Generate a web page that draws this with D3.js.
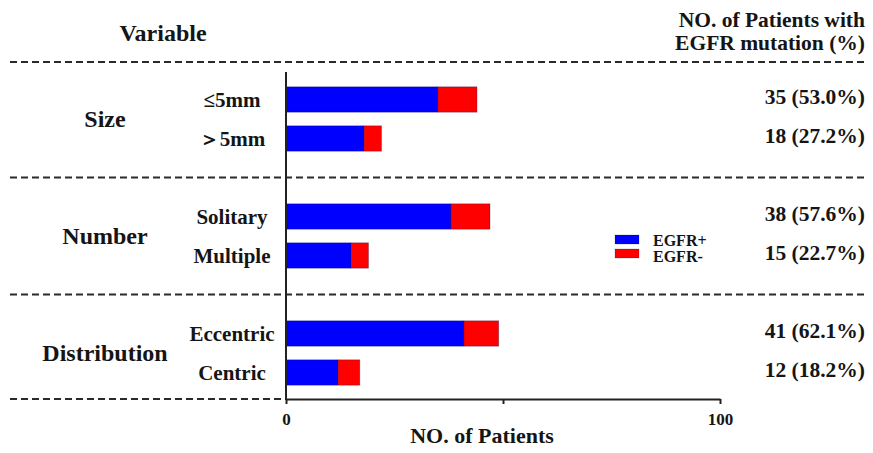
<!DOCTYPE html>
<html>
<head>
<meta charset="utf-8">
<script src="https://cdn.jsdelivr.net/npm/d3@7"></script>
<style>
  html, body { margin: 0; padding: 0; background: #fff; }
  svg { display: block; }
  text { font-family: "Liberation Serif", "Times New Roman", serif; font-weight: bold; fill: #151515; }
</style>
</head>
<body>
<svg id="chart" width="873" height="453"></svg>
<script>
// Variables, their sub-categories and patient counts
const groups = ["Size", "Number", "Distribution"];
const categories = ["≤5mm", "＞5mm", "Solitary", "Multiple", "Eccentric", "Centric"];
const categoryGroup = ["Size", "Size", "Number", "Number", "Distribution", "Distribution"];
const egfrPositive = [35, 18, 38, 15, 41, 12];
const egfrNegative = [9, 4, 9, 4, 8, 5];
const positivePct = [53.0, 27.2, 57.6, 22.7, 62.1, 18.2];
const seriesNames = ["EGFR+", "EGFR-"];
const xTicks = [0, 50, 100];
const xTickLabels = ["0", "", "100"];

const colors = { "EGFR+": "#0000ff", "EGFR-": "#ff0000" };

const svg = d3.select("#chart");

// Row layout: each group gets two rows, with an empty row between groups
const rowKeys = [];
groups.forEach((g, gi) => {
  categories.forEach((c, i) => { if (categoryGroup[i] === g) rowKeys.push(c); });
  if (gi < groups.length - 1) rowKeys.push("__sep" + gi);
});

const x = d3.scaleLinear().domain([0, 100]).range([286, 720]);
const y = d3.scaleBand().domain(rowKeys).range([80, 392]).paddingInner(0.35).paddingOuter(0.175);
const rowCenter = k => y(k) + y.bandwidth() / 2;

// Stacked data
const rows = categories.map((c, i) => ({ cat: c, "EGFR+": egfrPositive[i], "EGFR-": egfrNegative[i] }));
const stacked = d3.stack().keys(seriesNames)(rows);

// Dashed separators
const dash = "7,4";
const sepStyle = sel => sel.attr("stroke", "#2a2a2a").attr("stroke-width", 2).attr("stroke-dasharray", dash);
svg.append("line").attr("x1", 10).attr("x2", 866).attr("y1", 62).attr("y2", 62).call(sepStyle);
rowKeys.filter(k => k.startsWith("__sep")).forEach(k => {
  svg.append("line").attr("x1", 10).attr("x2", 866)
    .attr("y1", rowCenter(k)).attr("y2", rowCenter(k)).call(sepStyle);
});
svg.append("line").attr("x1", 10).attr("x2", x(0)).attr("y1", 399).attr("y2", 399).call(sepStyle);

// Bars
svg.append("g").selectAll("g").data(stacked).join("g")
  .attr("fill", d => colors[d.key])
  .selectAll("rect").data(d => d).join("rect")
  .attr("x", d => x(d[0]))
  .attr("width", d => x(d[1]) - x(d[0]))
  .attr("y", d => y(d.data.cat))
  .attr("height", y.bandwidth())
  .attr("stroke", "rgba(0,0,60,0.35)")
  .attr("stroke-width", 0.8);

// X axis
const xAxis = d3.axisBottom(x)
  .tickValues(xTicks)
  .tickFormat((d, i) => xTickLabels[i])
  .tickSize(5)
  .tickSizeOuter(0)
  .tickPadding(9);
const gx = svg.append("g").attr("transform", "translate(0,399)").call(xAxis);
gx.select(".domain").attr("stroke", "#222").attr("stroke-width", 2);
gx.selectAll(".tick line").attr("stroke", "#222").attr("stroke-width", 2);
gx.selectAll(".tick text").attr("font-size", 17).attr("fill", "#151515")
  .style("font-family", '"Liberation Serif", "Times New Roman", serif').style("font-weight", "bold");

// Y axis line
svg.append("line").attr("x1", x(0)).attr("x2", x(0)).attr("y1", 72).attr("y2", 400)
  .attr("stroke", "#222").attr("stroke-width", 2);

// Axis title
svg.append("text").attr("x", 482).attr("y", 443).attr("text-anchor", "middle")
  .attr("font-size", 22).text("NO. of Patients");

// Column headers
svg.append("text").attr("x", 163).attr("y", 41).attr("text-anchor", "middle")
  .attr("font-size", 24).text("Variable");
svg.append("text").attr("x", 865).attr("y", 27).attr("text-anchor", "end")
  .attr("font-size", 21.5).text("NO. of Patients with");
svg.append("text").attr("x", 865).attr("y", 50).attr("text-anchor", "end")
  .attr("font-size", 21.5).text("EGFR mutation (%)");

// Group labels
groups.forEach(g => {
  const cats = categories.filter((c, i) => categoryGroup[i] === g);
  const cy = d3.mean(cats, rowCenter);
  svg.append("text").attr("x", 105).attr("y", cy + 8).attr("text-anchor", "middle")
    .attr("font-size", 24).text(g);
});

// Sub-category labels
svg.append("g").selectAll("text").data(categories).join("text")
  .attr("x", 232).attr("y", d => rowCenter(d) + 7).attr("text-anchor", "middle")
  .attr("font-size", 21).text(d => d);

// Counts with percentages
svg.append("g").selectAll("text").data(categories).join("text")
  .attr("x", 865).attr("y", d => rowCenter(d) + 4).attr("text-anchor", "end")
  .attr("font-size", 21.5)
  .text((d, i) => `${egfrPositive[i]} (${positivePct[i].toFixed(1)}%)`);

// Legend
const legend = svg.append("g");
seriesNames.forEach((s, i) => {
  legend.append("rect").attr("x", 615).attr("y", 235 + i * 14).attr("width", 24).attr("height", 9)
    .attr("fill", colors[s]).attr("stroke", "rgba(0,0,60,0.3)").attr("stroke-width", 0.6);
  legend.append("text").attr("x", 653).attr("y", 246 + i * 16).attr("font-size", 16).text(s);
});
</script>
</body>
</html>
